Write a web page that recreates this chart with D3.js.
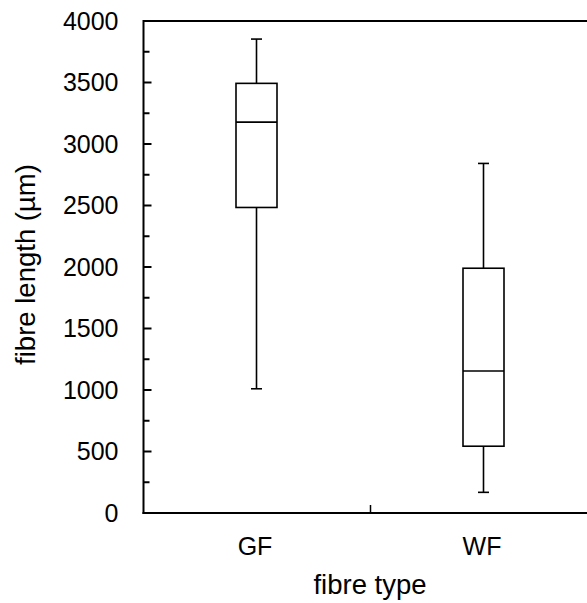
<!DOCTYPE html>
<html><head><meta charset="utf-8">
<script src="https://cdn.jsdelivr.net/npm/d3@7"></script>
<style>body{margin:0;background:#fff}svg{display:block}text{font-family:"Liberation Sans",Arial,sans-serif;fill:#000}</style>
</head><body><svg id="c" width="587" height="603"></svg>
<script>
const categories = ["GF", "WF"];
const whiskerMin = [1010, 168];
const q1 = [2484, 543];
const median = [3178, 1155];
const q3 = [3493, 1990];
const whiskerMax = [3853, 2842];
const yTicks = [0, 500, 1000, 1500, 2000, 2500, 3000, 3500, 4000];
const yMinorTicks = [250, 750, 1250, 1750, 2250, 2750, 3250, 3750];
const xTitle = "fibre type";
const yTitle = "fibre length (µm)";

const svg = d3.select("#c");
const L = 143.5, T = 21, B = 513, W = 454;
const x = d3.scaleBand().domain(categories).range([L, L + W]);
const y = d3.scaleLinear().domain([0, 4000]).range([B, T]);
const fs = 25, tfs = 27.5;

// frame lines (top, left, bottom)
svg.append("line").attr("x1", L).attr("x2", L + W).attr("y1", T).attr("y2", T).attr("stroke", "#000").attr("stroke-width", 2);
svg.append("line").attr("x1", L).attr("x2", L).attr("y1", T - 1).attr("y2", B + 1).attr("stroke", "#000").attr("stroke-width", 2);
svg.append("line").attr("x1", L - 1).attr("x2", L + W).attr("y1", B).attr("y2", B).attr("stroke", "#000").attr("stroke-width", 2);

// y ticks (inside)
svg.selectAll(".ymaj").data(yTicks).join("line")
  .attr("x1", L).attr("x2", L + 8).attr("y1", d => y(d)).attr("y2", d => y(d))
  .attr("stroke", "#000").attr("stroke-width", 2);
svg.selectAll(".ymin").data(yMinorTicks).join("line")
  .attr("x1", L).attr("x2", L + 6).attr("y1", d => y(d)).attr("y2", d => y(d))
  .attr("stroke", "#000").attr("stroke-width", 2);
svg.selectAll(".ylab").data(yTicks).join("text")
  .attr("x", 118.5).attr("y", d => y(d)).attr("dy", "0.35em")
  .attr("text-anchor", "end").attr("font-size", fs).text(d => d);

// x tick between categories
svg.append("line").attr("x1", x("WF")).attr("x2", x("WF")).attr("y1", B).attr("y2", B - 8)
  .attr("stroke", "#000").attr("stroke-width", 1.5);
svg.selectAll(".xlab").data(categories).join("text")
  .attr("x", d => x(d) + x.bandwidth() / 2 - 2).attr("y", 555)
  .attr("text-anchor", "middle").attr("font-size", fs).text(d => d);

svg.append("text").attr("x", 370).attr("y", 594).attr("text-anchor", "middle").attr("font-size", tfs).text(xTitle);
svg.append("text").attr("transform", `translate(35,264.5) rotate(-90)`)
  .attr("text-anchor", "middle").attr("font-size", tfs).text(yTitle);

// boxes
const bw = 41, cw = 11;
categories.forEach((c, i) => {
  const cx = x(c) + x.bandwidth() / 2 - 0.5;
  const g = svg.append("g").attr("stroke", "#000").attr("stroke-width", 1.6).attr("fill", "none");
  g.append("line").attr("x1", cx).attr("x2", cx).attr("y1", y(whiskerMax[i])).attr("y2", y(q3[i]));
  g.append("line").attr("x1", cx).attr("x2", cx).attr("y1", y(q1[i])).attr("y2", y(whiskerMin[i]));
  g.append("line").attr("x1", cx - cw / 2).attr("x2", cx + cw / 2).attr("y1", y(whiskerMax[i])).attr("y2", y(whiskerMax[i]));
  g.append("line").attr("x1", cx - cw / 2).attr("x2", cx + cw / 2).attr("y1", y(whiskerMin[i])).attr("y2", y(whiskerMin[i]));
  g.append("rect").attr("x", cx - bw / 2).attr("width", bw).attr("y", y(q3[i])).attr("height", y(q1[i]) - y(q3[i]));
  g.append("line").attr("x1", cx - bw / 2).attr("x2", cx + bw / 2).attr("y1", y(median[i])).attr("y2", y(median[i]));
});
</script></body></html>
